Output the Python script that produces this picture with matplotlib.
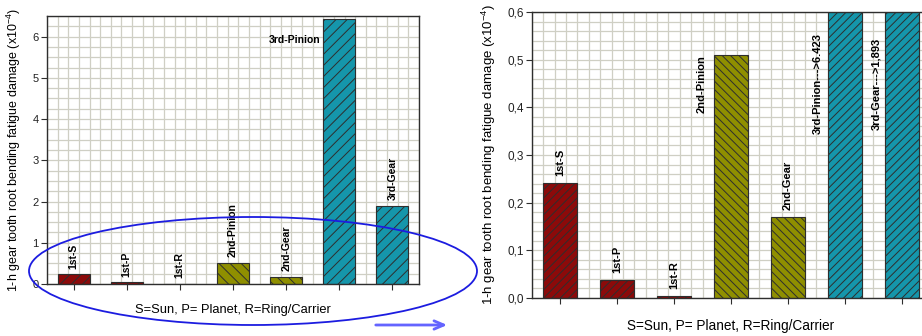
import matplotlib
matplotlib.use("Agg")
import matplotlib.pyplot as plt
from matplotlib.patches import Ellipse, FancyArrowPatch
from matplotlib.ticker import FuncFormatter, MultipleLocator, FixedLocator
import numpy as np

# Gear components of the three-stage gearbox and their 1-h fatigue damage (x1e-4)
components = ["1st-S", "1st-P", "1st-R", "2nd-Pinion", "2nd-Gear", "3rd-Pinion", "3rd-Gear"]
damage = [0.241, 0.038, 0.004, 0.510, 0.170, 6.423, 1.893]
stage = [1, 1, 1, 2, 2, 3, 3]

legend_note = "S=Sun, P= Planet, R=Ring/Carrier"
ylabel_text = "1-h gear tooth root bending fatigue damage (x10$^{-4}$)"

# styling
stage_colors = {1: "#8C0A0A", 2: "#8F8F00", 3: "#1596AB"}
stage_hatch_left = {1: "///", 2: "\\\\\\", 3: "///"}
stage_hatch_right = {1: "////", 2: "\\\\\\\\", 3: "////"}
grid_color = "#CFCFC4"
edge_color = "#2E2E2E"

plt.rcParams["font.family"] = ["Liberation Sans", "DejaVu Sans"]
plt.rcParams["mathtext.fontset"] = "custom"
plt.rcParams["mathtext.rm"] = "Liberation Sans"
plt.rcParams["mathtext.it"] = "Liberation Sans:italic"
plt.rcParams["mathtext.bf"] = "Liberation Sans:bold"
plt.rcParams["hatch.linewidth"] = 0.7

W, H = 922, 336
fig = plt.figure(figsize=(W / 100, H / 100), dpi=100)


def px_rect(l, t, r, b):
    return [l / W, 1 - b / H, (r - l) / W, (b - t) / H]


def style_axes(ax, ymax, ymajor, yminor, tick_fs):
    x = np.arange(len(components))
    ax.set_xlim(-0.5, len(components) - 0.5)
    ax.set_ylim(0, ymax)
    ax.set_xticks(x)
    ax.set_xticklabels([])
    ax.xaxis.set_minor_locator(FixedLocator(np.arange(-0.5, len(components) - 0.4, 0.2)))
    ax.yaxis.set_major_locator(MultipleLocator(ymajor))
    ax.yaxis.set_minor_locator(MultipleLocator(yminor))
    ax.grid(which="minor", axis="both", color=grid_color, linewidth=0.9, zorder=0)
    ax.grid(which="major", axis="y", color=grid_color, linewidth=0.9, zorder=0)
    ax.set_axisbelow(True)
    ax.tick_params(which="major", direction="out", length=4, width=0.8,
                   color=edge_color, labelsize=tick_fs, labelcolor="#222222", pad=2)
    ax.tick_params(which="minor", length=0)
    for sp in ax.spines.values():
        sp.set_color(edge_color)
        sp.set_linewidth(1.0)


def draw_bars(ax, hatches):
    x = np.arange(len(components))
    bars = ax.bar(x, damage, width=0.6,
                  color=[stage_colors[s] for s in stage],
                  edgecolor=edge_color, linewidth=0.8, zorder=2)
    for b, s in zip(bars, stage):
        b.set_hatch(hatches[s])
    return x


# ---------------- full-scale chart ----------------
axL = fig.add_axes(px_rect(47, 16, 419, 284))
style_axes(axL, 6.5, 1, 0.25, 8)
xL = draw_bars(axL, stage_hatch_left)
axL.yaxis.set_major_formatter(FuncFormatter(lambda v, p: f"{v:.0f}"))
axL.set_ylabel(ylabel_text, fontsize=9)
axL.yaxis.set_label_coords(-0.064, 0.5)

for i, (name, v) in enumerate(zip(components, damage)):
    if name == "3rd-Pinion":
        axL.text(i - 0.36, v - 0.5, name, ha="right", va="center",
                 fontsize=7.5, fontweight="bold", zorder=3)
    else:
        axL.annotate(name, (i, v), xytext=(0, 4), textcoords="offset points",
                     rotation=90, ha="center", va="bottom",
                     fontsize=7.5, fontweight="bold", zorder=3)

fig.text(233 / W, 1 - 310 / H, legend_note, ha="center", va="center", fontsize=9.3)

# ---------------- zoomed chart ----------------
axR = fig.add_axes(px_rect(532, 12, 930, 298))
style_axes(axR, 0.6, 0.1, 0.02, 8.5)
xR = draw_bars(axR, stage_hatch_right)
axR.yaxis.set_major_formatter(FuncFormatter(lambda v, p: f"{v:.1f}".replace(".", ",")))
axR.set_ylabel(ylabel_text, fontsize=9.5)
axR.yaxis.set_label_coords(-0.086, 0.5)

for i, (name, v) in enumerate(zip(components, damage)):
    if name == "2nd-Pinion":
        axR.text(i - 0.52, v, name, rotation=90, ha="center", va="top",
                 fontsize=8, fontweight="bold", zorder=3)
    elif name == "3rd-Pinion":
        axR.text(i - 0.48, 0.555, f"{name}--->{v:.3f}", rotation=90, ha="center",
                 va="top", fontsize=8, fontweight="bold", zorder=3)
    elif name == "3rd-Gear":
        axR.text(i - 0.44, 0.545, f"{name}--->{v:.3f}".replace(".", ","), rotation=90,
                 ha="center", va="top", fontsize=8, fontweight="bold", zorder=3)
    else:
        axR.annotate(name, (i, v), xytext=(0, 5), textcoords="offset points",
                     rotation=90, ha="center", va="bottom",
                     fontsize=8, fontweight="bold", zorder=3)

fig.text(731 / W, 1 - 326 / H, legend_note, ha="center", va="center", fontsize=9.8)

# ---------------- highlight ellipse and arrow ----------------
ring = Ellipse((253 / W, 1 - 271 / H), 448 / W, 108 / H, transform=fig.transFigure,
               fill=False, edgecolor="#1C1CE0", linewidth=1.3, zorder=10)
fig.add_artist(ring)
arrow = FancyArrowPatch((373 / W, 1 - 325 / H), (450 / W, 1 - 325 / H),
                        transform=fig.transFigure,
                        arrowstyle="->,head_length=7,head_width=3",
                        mutation_scale=1, color="#6464FF", linewidth=2, zorder=10)
fig.add_artist(arrow)

fig.savefig("out.png", dpi=100)
